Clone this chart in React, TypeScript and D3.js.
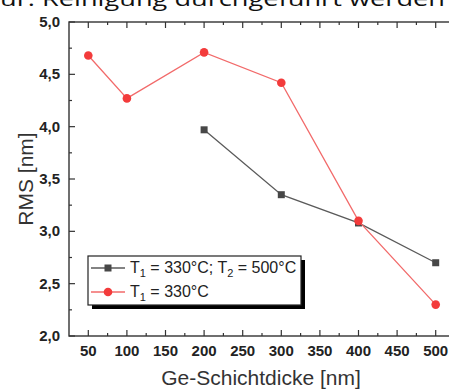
import { useEffect, useRef } from "react";
import * as d3 from "d3";

// data
const thickness = [50, 100, 200, 300, 400, 500];
const rmsT1 = [4.68, 4.27, 4.71, 4.42, 3.1, 2.3];
const thicknessT2 = [200, 300, 400, 500];
const rmsT1T2 = [3.97, 3.35, 3.08, 2.7];
const xTicks = [50, 100, 150, 200, 250, 300, 350, 400, 450, 500];
const yTicks = [2.0, 2.5, 3.0, 3.5, 4.0, 4.5, 5.0];

const RED = "#f33b3b";
const GRAY = "#474747";

export default function App() {
  const svgRef = useRef<SVGSVGElement>(null);

  useEffect(() => {
    const width = 449;
    const height = 390;
    const svg = d3.select(svgRef.current).attr("width", width).attr("height", height);
    svg.selectAll("*").remove();

    // plot frame runs past the right edge of the picture
    const x = d3.scaleLinear().domain([25, 525]).range([69, 455]);
    const y = d3.scaleLinear().domain([2, 5]).range([336, 22]);
    const fmt = (v: number) => d3.format(".1f")(v).replace(".", ",");

    // caption text above the chart (cut at the top, as in the source)
    svg
      .append("text")
      .attr("x", 0)
      .attr("y", 6)
      .attr("font-family", "'Open Sans', sans-serif")
      .attr("font-size", 20)
      .attr("fill", "#111")
      .attr("textLength", 445)
      .attr("lengthAdjust", "spacingAndGlyphs")
      .text("ur. Reinigung durchgeführt werden");

    const g = svg.append("g");
    const axisColor = "#333";

    // frame
    g.append("rect")
      .attr("x", x(25))
      .attr("y", y(5))
      .attr("width", x(525) - x(25))
      .attr("height", y(2) - y(5))
      .attr("fill", "none")
      .attr("stroke", axisColor)
      .attr("stroke-width", 1.4);

    // ticks, all pointing inside
    const xMinor = d3.range(75, 525, 50);
    const tick = (x1: number, y1: number, x2: number, y2: number) =>
      g.append("line")
        .attr("x1", x1).attr("y1", y1).attr("x2", x2).attr("y2", y2)
        .attr("stroke", axisColor).attr("stroke-width", 1.2);
    xTicks.forEach((v) => {
      tick(x(v), y(2), x(v), y(2) - 6);
      tick(x(v), y(5), x(v), y(5) + 6);
    });
    xMinor.forEach((v) => {
      tick(x(v), y(2), x(v), y(2) - 3);
      tick(x(v), y(5), x(v), y(5) + 3);
    });
    yTicks.forEach((v) => tick(x(25), y(v), x(25) + 6, y(v)));
    d3.range(2.25, 5, 0.5).forEach((v) => tick(x(25), y(v), x(25) + 3, y(v)));

    // tick labels
    g.selectAll(".xl")
      .data(xTicks)
      .join("text")
      .attr("x", (d) => x(d))
      .attr("y", 356)
      .attr("text-anchor", "middle")
      .attr("font-family", "'Liberation Sans', Arial, sans-serif")
      .attr("font-weight", "bold")
      .attr("font-size", 15)
      .attr("fill", "#222")
      .text((d) => d);
    g.selectAll(".yl")
      .data(yTicks)
      .join("text")
      .attr("x", 60)
      .attr("y", (d) => y(d) + 5)
      .attr("text-anchor", "end")
      .attr("font-family", "'Liberation Sans', Arial, sans-serif")
      .attr("font-weight", "bold")
      .attr("font-size", 15)
      .attr("fill", "#222")
      .text((d) => fmt(d));

    // axis titles
    g.append("text")
      .attr("x", 261)
      .attr("y", 385)
      .attr("text-anchor", "middle")
      .attr("font-family", "'Liberation Sans', Arial, sans-serif")
      .attr("font-size", 21)
      .attr("fill", "#333")
      .text("Ge-Schichtdicke [nm]");
    g.append("text")
      .attr("transform", `translate(33, ${y(3.5)}) rotate(-90)`)
      .attr("text-anchor", "middle")
      .attr("font-family", "'Liberation Sans', Arial, sans-serif")
      .attr("font-size", 21)
      .attr("fill", "#333")
      .text("RMS [nm]");

    const line = d3.line<[number, number]>().x((d) => x(d[0])).y((d) => y(d[1]));

    const grayPts = thicknessT2.map((t, i) => [t, rmsT1T2[i]] as [number, number]);
    const redPts = thickness.map((t, i) => [t, rmsT1[i]] as [number, number]);

    g.append("path")
      .attr("d", line(grayPts))
      .attr("fill", "none")
      .attr("stroke", "#5a5a5a")
      .attr("stroke-width", 1.3);
    g.selectAll(".sq")
      .data(grayPts)
      .join("rect")
      .attr("x", (d) => x(d[0]) - 3.5)
      .attr("y", (d) => y(d[1]) - 3.5)
      .attr("width", 7)
      .attr("height", 7)
      .attr("fill", GRAY);

    g.append("path")
      .attr("d", line(redPts))
      .attr("fill", "none")
      .attr("stroke", "#f26a6a")
      .attr("stroke-width", 1.3);
    g.selectAll(".ci")
      .data(redPts)
      .join("circle")
      .attr("cx", (d) => x(d[0]))
      .attr("cy", (d) => y(d[1]))
      .attr("r", 4.3)
      .attr("fill", RED);

    // legend with black drop shadow
    const lg = g.append("g");
    lg.append("rect").attr("x", 92).attr("y", 260).attr("width", 213).attr("height", 49).attr("fill", "#000");
    lg.append("rect")
      .attr("x", 88).attr("y", 256).attr("width", 213).attr("height", 49)
      .attr("fill", "#fff").attr("stroke", "#222").attr("stroke-width", 1.2);

    const entries = [
      { y: 268, color: "#5a5a5a", mk: "sq", sub2: true },
      { y: 292, color: "#f26a6a", mk: "ci", sub2: false },
    ];
    entries.forEach((e) => {
      lg.append("line").attr("x1", 91).attr("x2", 125).attr("y1", e.y).attr("y2", e.y)
        .attr("stroke", e.color).attr("stroke-width", 1.3);
      if (e.mk === "sq") {
        lg.append("rect").attr("x", 104.5).attr("y", e.y - 3.5).attr("width", 7).attr("height", 7).attr("fill", GRAY);
      } else {
        lg.append("circle").attr("cx", 108).attr("cy", e.y).attr("r", 4.3).attr("fill", RED);
      }
      const t = lg.append("text")
        .attr("x", 130)
        .attr("y", e.y + 5)
        .attr("font-family", "'Liberation Sans', Arial, sans-serif")
        .attr("font-size", 16)
        .attr("fill", "#222");
      t.append("tspan").text("T");
      t.append("tspan").attr("font-size", 11).attr("dy", 4).text("1");
      t.append("tspan").attr("dy", -4).text(e.sub2 ? " = 330°C; T" : " = 330°C");
      if (e.sub2) {
        t.append("tspan").attr("font-size", 11).attr("dy", 4).text("2");
        t.append("tspan").attr("dy", -4).text(" = 500°C");
      }
    });
  }, []);

  return (
    <div style={{ position: "absolute", left: 0, top: 0 }}>
      <svg ref={svgRef} style={{ display: "block" }}></svg>
    </div>
  );
}
